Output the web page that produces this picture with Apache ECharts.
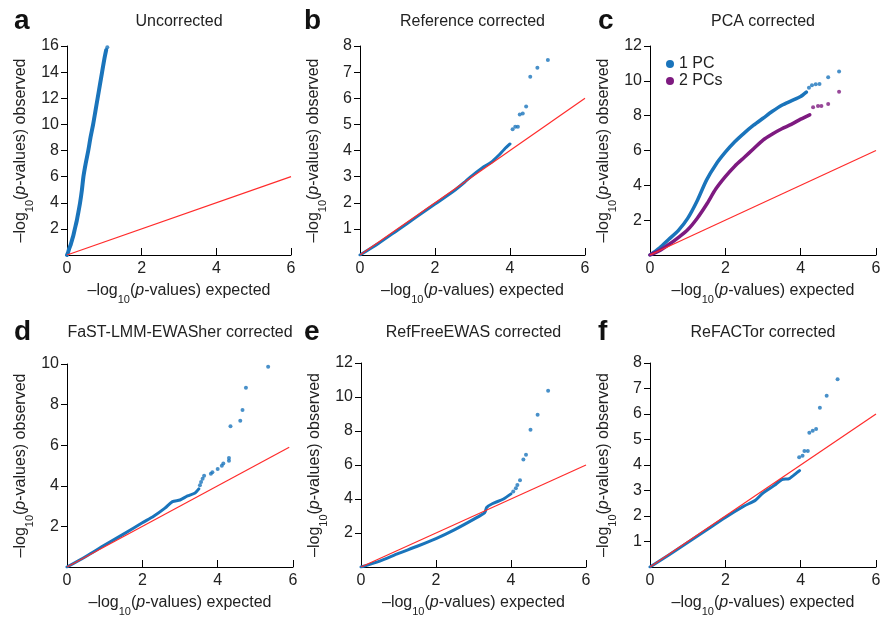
<!DOCTYPE html>
<html>
<head>
<meta charset="utf-8">
<script src="https://cdn.jsdelivr.net/npm/echarts@6/dist/echarts.min.js"></script>
<style>html,body{margin:0;background:#fff}#container{width:889px;height:618px}</style>
</head>
<body>
<div id="container"></div>
<script>
var dom = document.getElementById("container");
var myChart = echarts.init(dom);

// expected vs observed
var diagonal = [[0, 0], [6, 6]];
var diagonalD = [[0, 0], [5.9, 5.9]];

var aDense = [[0,0],[0.03,0.2],[0.06,0.5],[0.1,0.8],[0.13,1.1],[0.17,1.5],[0.21,2],[0.26,2.6],[0.3,3.2],[0.35,4],[0.4,5],[0.44,6],[0.5,7],[0.57,8],[0.63,9],[0.7,10],[0.76,11],[0.82,12],[0.88,13],[0.94,14],[1.0,15],[1.05,15.7]];
var aTail = [[1.08,15.9]];

var bDense = [[0,0],[0.5,0.45],[1,0.95],[1.5,1.45],[2,1.95],[2.5,2.45],[2.8,2.8],[3,3.05],[3.3,3.38],[3.5,3.55],[3.7,3.82],[3.85,4.05],[4,4.25]];
var bTail = [[4.07,4.81],[4.14,4.91],[4.21,4.91],[4.26,5.38],[4.34,5.42],[4.43,5.68],[4.54,6.82],[4.73,7.17],[5.01,7.46]];

var c1Dense = [[0,0],[0.25,0.4],[0.5,0.9],[0.75,1.4],[1,2.1],[1.25,3.1],[1.5,4.3],[1.75,5.2],[2,5.9],[2.25,6.5],[2.5,7.0],[2.75,7.45],[3,7.85],[3.25,8.25],[3.5,8.6],[3.75,8.85],[4,9.1],[4.15,9.35]];
var c1Tail = [[4.22,9.6],[4.3,9.75],[4.4,9.8],[4.5,9.82],[4.73,10.2],[5.02,10.53]];
var c2Dense = [[0,0],[0.25,0.25],[0.5,0.6],[0.75,1.0],[1,1.45],[1.25,2.1],[1.5,2.9],[1.75,3.8],[2,4.5],[2.25,5.1],[2.5,5.6],[2.75,6.1],[3,6.6],[3.25,6.95],[3.5,7.25],[3.75,7.5],[4,7.8],[4.24,8.05]];
var c2Tail = [[4.33,8.48],[4.46,8.56],[4.55,8.56],[4.73,8.67],[5.02,9.38]];

var dDense = [[0,0],[0.5,0.52],[1,1.08],[1.5,1.62],[2,2.18],[2.3,2.5],[2.6,2.9],[2.8,3.22],[3,3.3],[3.2,3.5],[3.4,3.65],[3.5,3.85]];
var dTail = [[3.53,4.03],[3.56,4.19],[3.6,4.35],[3.64,4.5],[3.82,4.59],[3.86,4.67],[4.0,4.83],[4.11,4.99],[4.15,5.1],[4.3,5.24],[4.3,5.37],[4.34,6.93],[4.6,7.21],[4.66,7.74],[4.75,8.83],[5.34,9.87]];

var eDense = [[0,0],[0.5,0.35],[1,0.8],[1.5,1.22],[2,1.67],[2.5,2.2],[3,2.8],[3.3,3.2],[3.35,3.5],[3.5,3.72],[3.8,4.0],[4.0,4.3]];
var eTail = [[4.06,4.44],[4.13,4.63],[4.17,4.82],[4.24,5.11],[4.33,6.32],[4.4,6.6],[4.52,8.08],[4.71,8.96],[4.99,10.37]];

var fDense = [[0,0],[0.5,0.47],[1,0.96],[1.5,1.45],[2,1.94],[2.5,2.39],[2.8,2.62],[3,2.9],[3.3,3.2],[3.5,3.43],[3.7,3.47],[3.9,3.7],[3.97,3.78]];
var fTail = [[3.96,4.3],[4.05,4.36],[4.1,4.55],[4.19,4.55],[4.23,5.26],[4.32,5.34],[4.41,5.41],[4.51,6.25],[4.69,6.72],[4.98,7.36]];

var panelLetters = ['a', 'b', 'c', 'd', 'e', 'f'];
var panelTitles = ['Uncorrected', 'Reference corrected', 'PCA corrected', 'FaST-LMM-EWASher corrected', 'RefFreeEWAS corrected', 'ReFACTor corrected'];
var yMaxes = [16, 8, 12, 10, 12, 8];
var ySteps = [2, 1, 2, 2, 2, 1];

var blue = '#1a74bb', purple = '#7e1a80', red = '#ff2b2b';
var font = '"Liberation Sans", Arial, sans-serif';

var grids = [
  {left: 67, top: 46, width: 224, height: 209},
  {left: 360, top: 46, width: 225, height: 209},
  {left: 650, top: 46, width: 226, height: 209},
  {left: 67, top: 364, width: 226, height: 208},
  {left: 361, top: 363, width: 225, height: 209},
  {left: 650, top: 363, width: 226, height: 209}
];
var letterX = [14, 304, 598];
var titleY = [22, 333];

var rich = {
  n: {fontSize: 16, lineHeight: 22, verticalAlign: 'top', fontFamily: font, color: '#222'},
  i: {fontSize: 16, lineHeight: 22, verticalAlign: 'top', fontFamily: font, fontStyle: 'italic', color: '#222'},
  s: {fontSize: 11, lineHeight: 14, verticalAlign: 'bottom', fontFamily: font, color: '#222'}
};
function axisName(word) {
  return '{n|–log}{s|10}{n|(}{i|p}{n|-values) ' + word + '}';
}

var xAxes = [], yAxes = [], graphics = [];
grids.forEach(function (g, k) {
  xAxes.push({
    type: 'value', gridIndex: k, min: 0, max: 6, interval: 2,
    name: axisName('expected'), nameLocation: 'middle', nameGap: 28,
    nameTextStyle: {rich: rich},
    axisLine: {show: true, lineStyle: {color: '#000', width: 1}},
    axisTick: {show: true, inside: true, length: 7, lineStyle: {color: '#000'}},
    axisLabel: {margin: 6, fontSize: 16, color: '#222', fontFamily: font},
    splitLine: {show: false}
  });
  yAxes.push({
    type: 'value', gridIndex: k, min: 0, max: yMaxes[k], interval: ySteps[k],
    name: axisName('observed'), nameLocation: 'middle', nameGap: 32,
    nameTextStyle: {rich: rich},
    axisLine: {show: true, lineStyle: {color: '#000', width: 1}},
    axisTick: {show: true, inside: false, length: 6, lineStyle: {color: '#000'}},
    axisLabel: {margin: 8, fontSize: 16, color: '#222', fontFamily: font, showMinLabel: false},
    splitLine: {show: false}
  });
  var row = k < 3 ? 0 : 1;
  graphics.push({
    type: 'text', x: g.left + g.width / 2, y: titleY[row],
    style: {text: panelTitles[k], font: '16px ' + font, fill: '#222', align: 'center', verticalAlign: 'middle'}
  });
  graphics.push({
    type: 'text', x: letterX[k % 3], y: titleY[row] - 1,
    style: {text: panelLetters[k], font: 'bold 28px ' + font, fill: '#111', align: 'left', verticalAlign: 'middle'}
  });
});

function dense(name, k, data, color, w) {
  return {name: name, type: 'line', xAxisIndex: k, yAxisIndex: k, data: data, showSymbol: false,
    smooth: 0.25, lineStyle: {color: color, width: w, cap: 'round', join: 'round'}, itemStyle: {color: color}, z: 2};
}
function tail(name, k, data, color) {
  return {name: name, type: 'scatter', xAxisIndex: k, yAxisIndex: k, data: data,
    symbolSize: 4, itemStyle: {color: color}, z: 2};
}
function diag(k, data) {
  return {name: 'diag' + k, type: 'line', xAxisIndex: k, yAxisIndex: k, data: data, showSymbol: false,
    lineStyle: {color: red, width: 1.2}, z: 3};
}

var series = [
  dense('a', 0, aDense, blue, 4), tail('a tail', 0, aTail, blue), diag(0, diagonal),
  dense('b', 1, bDense, blue, 3), tail('b tail', 1, bTail, blue), diag(1, diagonal),
  dense('1 PC', 2, c1Dense, blue, 3.5), tail('1 PC', 2, c1Tail, blue),
  dense('2 PCs', 2, c2Dense, purple, 3.5), tail('2 PCs', 2, c2Tail, purple), diag(2, diagonal),
  dense('d', 3, dDense, blue, 3), tail('d tail', 3, dTail, blue), diag(3, diagonalD),
  dense('e', 4, eDense, blue, 3), tail('e tail', 4, eTail, blue), diag(4, diagonal),
  dense('f', 5, fDense, blue, 3), tail('f tail', 5, fTail, blue), diag(5, diagonal)
];

option = {
  animation: false,
  backgroundColor: '#fff',
  grid: grids,
  xAxis: xAxes,
  yAxis: yAxes,
  graphic: graphics,
  legend: {
    data: [{name: '1 PC', icon: 'circle', itemStyle: {color: blue}}, {name: '2 PCs', icon: 'circle', itemStyle: {color: purple}}],
    orient: 'vertical', left: 661, top: 51, itemWidth: 8, itemHeight: 8, itemGap: 1, itemTextGap: 3,
    textStyle: {fontSize: 16, color: '#222', fontFamily: font}
  },
  series: series
};
if (option && typeof option === "object") {
  myChart.setOption(option, true);
}
</script>
</body>
</html>
